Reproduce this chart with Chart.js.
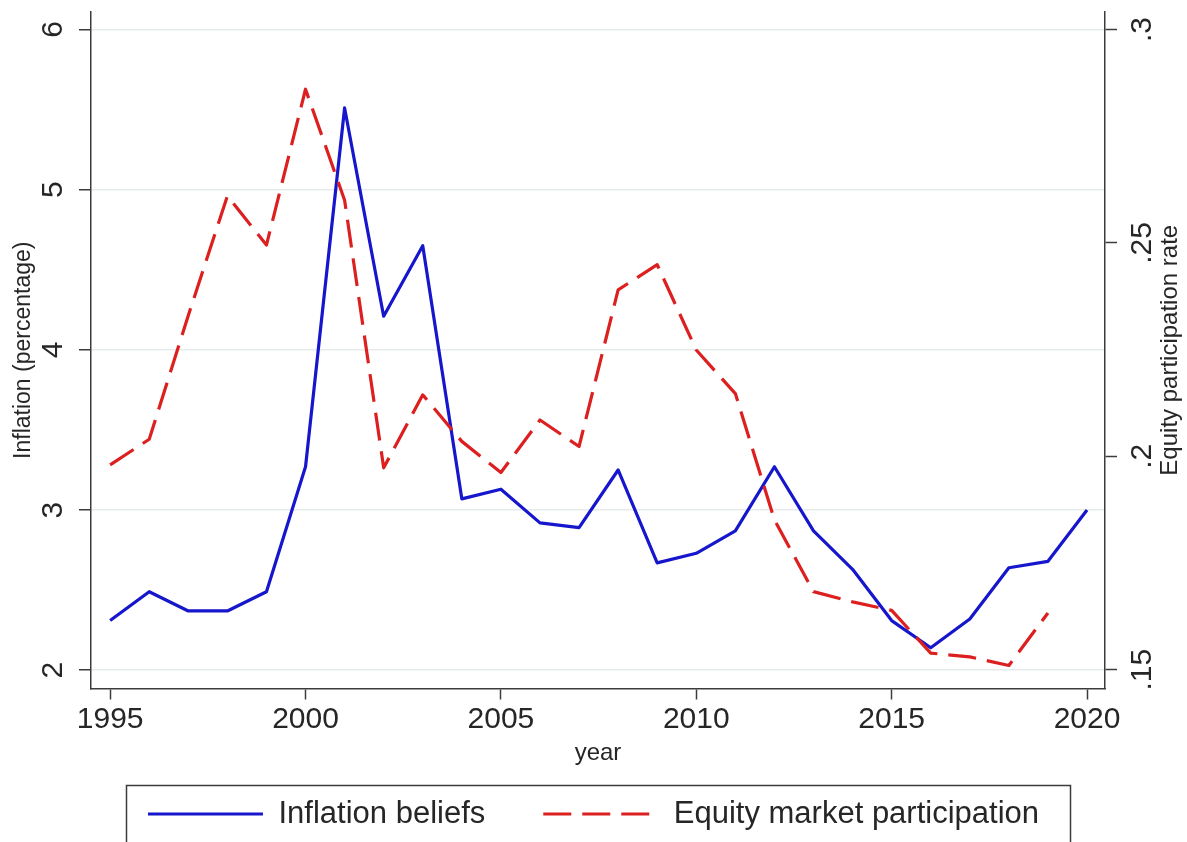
<!DOCTYPE html>
<html>
<head>
<meta charset="utf-8">
<title>Inflation beliefs and equity market participation</title>
<script src="https://cdn.jsdelivr.net/npm/chart.js@4/dist/chart.umd.min.js"></script>
<style>
  html, body { margin: 0; padding: 0; background: #ffffff; }
  canvas { display: block; }
</style>
</head>
<body>
<canvas id="chart" width="1187" height="842"></canvas>
<script>
// Survey years
const years = [1995, 1996, 1997, 1998, 1999, 2000, 2001, 2002, 2003, 2004, 2005, 2006, 2007,
               2008, 2009, 2010, 2011, 2012, 2013, 2014, 2015, 2016, 2017, 2018, 2019, 2020];

// Expected inflation, percent (left axis)
const inflationBeliefs = [2.31, 2.49, 2.37, 2.37, 2.49, 3.27, 5.51, 4.21, 4.65, 3.07, 3.13, 2.92, 2.89,
                          3.25, 2.67, 2.73, 2.87, 3.27, 2.87, 2.63, 2.31, 2.14, 2.32, 2.64, 2.68, 3.00];

// Share of households holding equity (right axis); no 2020 observation
const equityParticipation = [0.198, 0.204, 0.233, 0.261, 0.2495, 0.286, 0.260, 0.1973, 0.2144, 0.2035,
                             0.1962, 0.2085, 0.2023, 0.239, 0.2449, 0.2249, 0.2147, 0.1851, 0.1683,
                             0.1659, 0.1639, 0.1539, 0.153, 0.151, 0.1633, null];

// Axis ticks
const yearTicks = [1995, 2000, 2005, 2010, 2015, 2020];
const inflationTicks = [2, 3, 4, 5, 6];
const participationTicks = [0.15, 0.2, 0.25, 0.3];

const FONT = '"Liberation Sans", Arial, Helvetica, sans-serif';
const AXIS_COLOR = '#3c3c3c';
const TEXT_COLOR = '#262626';
const GRID_COLOR = '#e6ecec';

const toPoints = values => years.map((yr, i) => ({ x: yr, y: values[i] }));
const dropLeadingZero = v => String(v).replace(/^0\./, '.');

// Right-hand axis title, read bottom to top like the left one
const rightTitlePlugin = {
  id: 'rightTitle',
  afterDraw(chart) {
    const s = chart.scales.y2;
    const ctx = chart.ctx;
    ctx.save();
    ctx.translate(s.right - 17, (s.top + s.bottom) / 2);
    ctx.rotate(-Math.PI / 2);
    ctx.font = '24px ' + FONT;
    ctx.fillStyle = TEXT_COLOR;
    ctx.textAlign = 'center';
    ctx.textBaseline = 'middle';
    ctx.fillText('Equity participation rate', 0, 0);
    ctx.restore();
  }
};

// Frame around the legend
const legendFramePlugin = {
  id: 'legendFrame',
  afterDraw(chart) {
    const lg = chart.legend;
    const hb = lg.legendHitBoxes;
    if (!hb || !hb.length) return;
    const first = hb[0], last = hb[hb.length - 1];
    const x0 = Math.round(first.left - 22) + 0.5;
    const x1 = Math.round(last.left + last.width + 31) + 0.5;
    const y0 = Math.round(first.top - 13.5) + 0.5;
    const ctx = chart.ctx;
    ctx.save();
    ctx.strokeStyle = AXIS_COLOR;
    ctx.lineWidth = 1.5;
    ctx.strokeRect(x0, y0, x1 - x0, chart.height + 20 - y0);
    ctx.restore();
  }
};

// Legend samples take the stroke of each series line
const lineLegendLabels = chart =>
  Chart.defaults.plugins.legend.labels.generateLabels(chart).map(item => {
    const ds = chart.data.datasets[item.datasetIndex];
    item.strokeStyle = ds.borderColor;
    item.lineWidth = ds.borderWidth;
    item.lineDash = ds.borderDash || [];
    item.lineCap = 'butt';
    return item;
  });

new Chart(document.getElementById('chart'), {
  type: 'line',
  data: {
    datasets: [
      {
        label: 'Inflation beliefs',
        data: toPoints(inflationBeliefs),
        yAxisID: 'y',
        borderColor: '#1616cc',
        backgroundColor: '#1616cc',
        borderWidth: 3.2,
        tension: 0,
        pointRadius: 0,
        borderJoinStyle: 'round',
        order: 1
      },
      {
        label: 'Equity market participation',
        data: toPoints(equityParticipation),
        yAxisID: 'y2',
        borderColor: '#dc2020',
        backgroundColor: '#dc2020',
        borderWidth: 3.2,
        borderDash: [28, 11],
        tension: 0,
        pointRadius: 0,
        borderJoinStyle: 'round',
        order: 0
      }
    ]
  },
  options: {
    responsive: false,
    animation: false,
    devicePixelRatio: 1,
    layout: { padding: { top: 12, left: 0, right: 0, bottom: 2.5 } },
    plugins: {
      tooltip: { enabled: false },
      legend: {
        position: 'bottom',
        labels: {
          usePointStyle: true,
          pointStyle: 'line',
          pointStyleWidth: 115,
          padding: 58,
          color: TEXT_COLOR,
          font: { size: 31, family: FONT },
          generateLabels: lineLegendLabels,
          sort: (a, b) => a.datasetIndex - b.datasetIndex
        }
      }
    },
    scales: {
      x: {
        type: 'linear',
        min: 1994.51,
        max: 2020.46,
        afterBuildTicks: s => { s.ticks = yearTicks.map(v => ({ value: v })); },
        afterFit: s => { s.height = 52; s.paddingLeft = 0; s.paddingRight = 0; },
        ticks: {
          padding: 2,
          maxRotation: 0,
          color: TEXT_COLOR,
          font: { size: 30, family: FONT },
          callback: v => String(v)
        },
        grid: {
          drawOnChartArea: false,
          drawTicks: true,
          tickLength: 11,
          tickColor: AXIS_COLOR,
          tickWidth: 1.5
        },
        border: { display: true, color: AXIS_COLOR, width: 1.5 },
        title: {
          display: true,
          text: 'year',
          color: TEXT_COLOR,
          font: { size: 24, family: FONT },
          padding: { top: 0, bottom: -27 }
        }
      },
      y: {
        type: 'linear',
        position: 'left',
        min: 1.886,
        max: 6.109,
        afterBuildTicks: s => { s.ticks = inflationTicks.map(v => ({ value: v })); },
        afterFit: s => { s.width = 91; s.paddingTop = 0; s.paddingBottom = 0; },
        ticks: {
          minRotation: 90,
          maxRotation: 90,
          crossAlign: 'center',
          padding: 17,
          color: TEXT_COLOR,
          font: { size: 30, family: FONT },
          callback: v => String(v)
        },
        grid: {
          color: GRID_COLOR,
          lineWidth: 1.5,
          drawTicks: true,
          tickLength: 12,
          tickColor: AXIS_COLOR,
          tickWidth: 1.5
        },
        border: { display: true, color: AXIS_COLOR, width: 1.5 },
        title: {
          display: true,
          text: 'Inflation (percentage)',
          color: TEXT_COLOR,
          font: { size: 23, family: FONT },
          padding: { top: 10, bottom: 0 }
        }
      },
      y2: {
        type: 'linear',
        position: 'right',
        min: 0.1456,
        max: 0.3041,
        afterBuildTicks: s => { s.ticks = participationTicks.map(v => ({ value: v })); },
        afterFit: s => { s.width = 82; s.paddingTop = 0; s.paddingBottom = 0; },
        ticks: {
          minRotation: 90,
          maxRotation: 90,
          crossAlign: 'center',
          padding: 5,
          color: TEXT_COLOR,
          font: { size: 30, family: FONT },
          callback: dropLeadingZero
        },
        grid: {
          drawOnChartArea: false,
          drawTicks: true,
          tickLength: 12,
          tickColor: AXIS_COLOR,
          tickWidth: 1.5
        },
        border: { display: true, color: AXIS_COLOR, width: 1.5 }
      }
    }
  },
  plugins: [rightTitlePlugin, legendFramePlugin]
});
</script>
</body>
</html>
